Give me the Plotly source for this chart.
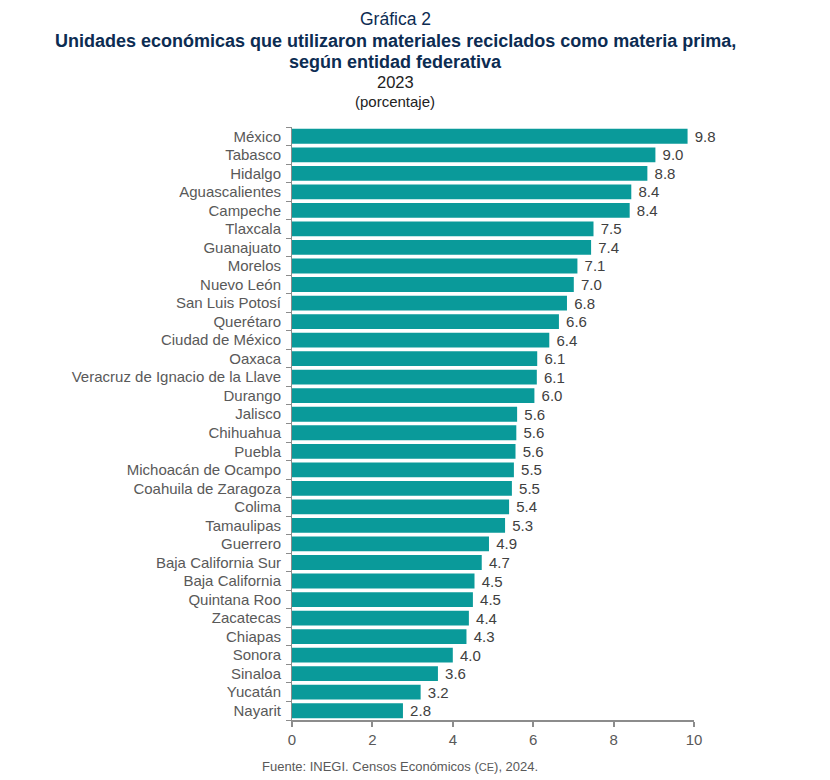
import plotly.graph_objects as go

# Entidades federativas, de mayor a menor
entidades = [
    "México", "Tabasco", "Hidalgo", "Aguascalientes", "Campeche", "Tlaxcala",
    "Guanajuato", "Morelos", "Nuevo León", "San Luis Potosí", "Querétaro",
    "Ciudad de México", "Oaxaca", "Veracruz de Ignacio de la Llave", "Durango",
    "Jalisco", "Chihuahua", "Puebla", "Michoacán de Ocampo", "Coahuila de Zaragoza",
    "Colima", "Tamaulipas", "Guerrero", "Baja California Sur", "Baja California",
    "Quintana Roo", "Zacatecas", "Chiapas", "Sonora", "Sinaloa", "Yucatán", "Nayarit",
]
porcentajes = [
    9.84, 9.04, 8.84, 8.44, 8.40, 7.50,
    7.44, 7.10, 7.01, 6.84, 6.64,
    6.40, 6.10, 6.09, 6.03,
    5.60, 5.58, 5.56, 5.52, 5.47,
    5.40, 5.30, 4.90, 4.72, 4.54,
    4.50, 4.40, 4.34, 4.00, 3.63, 3.20, 2.76,
]
ticks_x = [0, 2, 4, 6, 8, 10]

FONT = "Liberation Sans, Arial, sans-serif"
NAVY = "#0C2C52"
GRIS = "#595959"

# margenes (la pagina agrega ~8px de borde)
L, R, T, B = 284, 144, 119, 68
W, H = 830, 780
PW, PH = W - L - R, H - T - B


def px_x(xpx):
    return (xpx - 8 - L) / PW


def px_y(ypx):
    return (H - B - (ypx - 8)) / PH


fig = go.Figure(go.Bar(
    x=porcentajes,
    y=entidades,
    orientation="h",
    marker=dict(color="#0A9A9A", line=dict(width=0)),
    width=0.8,
    text=[f"\u00a0{v:.1f}" for v in porcentajes],
    textposition="outside",
    constraintext="none",
    textfont=dict(family=FONT, size=15, color="#404040"),
    cliponaxis=False,
))

fig.update_layout(
    width=W, height=H,
    margin=dict(l=L, r=R, t=T, b=B),
    plot_bgcolor="white", paper_bgcolor="white",
    showlegend=False,
    font=dict(family=FONT, color=GRIS),
    xaxis=dict(
        range=[0, 10], tickvals=ticks_x, showgrid=False, zeroline=False,
        showline=True, linecolor="#8C8C8C", linewidth=2,
        ticks="outside", tickcolor="#8C8C8C", ticklen=5, tickwidth=1.5,
        tickfont=dict(size=15, color=GRIS),
    ),
    yaxis=dict(
        categoryorder="array", categoryarray=entidades[::-1],
        showgrid=False, showline=True, linecolor="#8C8C8C", linewidth=1,
        ticks="outside", tickson="boundaries", tickcolor="#8C8C8C", ticklen=5,
        tickfont=dict(size=15, color=GRIS), ticklabelstandoff=7,
    ),
)

titulos = [
    ("Gráfica 2", 19, 17.5, NAVY, False),
    ("Unidades económicas que utilizaron materiales reciclados como materia prima,", 41, 18, NAVY, True),
    ("según entidad federativa", 62, 18, NAVY, True),
    ("2023", 82, 16.5, "#222222", False),
    ("(porcentaje)", 101, 15, "#222222", False),
]
for texto, ypx, size, color, bold in titulos:
    fig.add_annotation(
        text=f"<b>{texto}</b>" if bold else texto,
        xref="paper", yref="paper",
        x=px_x(395), y=px_y(ypx),
        xanchor="center", yanchor="middle", showarrow=False,
        font=dict(family=FONT, size=size, color=color),
    )

fig.add_annotation(
    text="Fuente: INEGI. Censos Económicos (<span style='font-size:11px'>CE</span>), 2024.",
    xref="paper", yref="paper",
    x=px_x(400), y=px_y(766),
    xanchor="center", yanchor="middle", showarrow=False,
    font=dict(family=FONT, size=13, color=GRIS),
)

fig.write_html("out.html")
